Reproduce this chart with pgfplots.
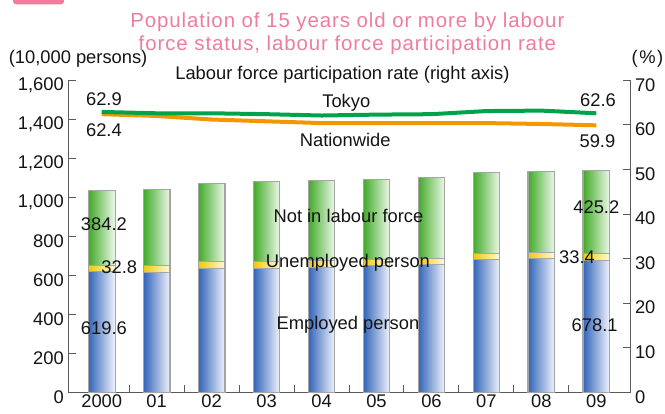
\documentclass[border=0pt]{standalone}
\usepackage{pgfplots}
\usepackage{pgfplotstable}
\pgfplotsset{compat=1.18}
\usepackage{fontspec}
\setmainfont{Liberation Sans}
\newfontfamily\titlefont{Liberation Sans}[LetterSpace=4.5]
\definecolor{axgray}{RGB}{90,90,90}
\definecolor{bargray}{RGB}{165,165,165}
\definecolor{tpink}{RGB}{238,125,155}
\definecolor{empblue}{RGB}{50,100,185}
\definecolor{empwhite}{RGB}{240,243,252}
\definecolor{unyel}{RGB}{240,200,10}
\definecolor{unwhite}{RGB}{255,251,220}
\definecolor{nlgreen}{RGB}{65,170,40}
\definecolor{nlwhite}{RGB}{238,248,234}
\definecolor{tokgreen}{RGB}{0,163,75}
\definecolor{natorange}{RGB}{243,150,0}
\definecolor{txt}{RGB}{20,20,20}

\pgfplotstableread{
x emp unemp notlf tokyo nation
0 619.6 32.8 384.2 62.9 62.4
1 616 35 390 62.6 62.0
2 633 38 399 62.6 61.2
3 637 36 407 62.4 60.8
4 641 33 413 62.1 60.4
5 648 33 411 62.3 60.4
6 656 31 416 62.4 60.4
7 682 30 414 63.1 60.4
8 687 31 413 63.2 60.2
9 678.1 33.4 425.2 62.6 59.9
}\datatable

\pgfplotsset{
  barstyle/.style={ybar, bar width=26.7bp, bar shift=0pt, draw=bargray, line width=1.1pt, forget plot,
    x filter/.expression={abs(x-#1)<0.1 ? x : nan}},
}

\begin{document}
\begin{tikzpicture}[font=\fontsize{18.4}{22}\selectfont, text=txt]
\useasboundingbox (-68.3bp,-21.7bp) rectangle (596.7bp,392.3bp);
\begin{axis}[
  width=562.2bp, height=312bp, scale only axis,
  xmin=-0.608, xmax=9.622, ymin=0, ymax=1600,
  axis x line*=bottom, axis y line*=left,
  axis line style={axgray, line width=1pt},
  tick align=inside,
  ytick={0,200,...,1600},
  major tick length=8bp,
  tick style={axgray, line width=1pt},
  xtick={0,...,9},
  xticklabels={2000,01,02,03,04,05,06,07,08,09},
  every major x tick/.style={draw=none},
  minor xtick={0.5,1.5,...,8.5},
  every minor x tick/.style={axgray, line width=1pt},
  minor tick length=7bp,
  /pgf/number format/.cd, 1000 sep={,}, assume math mode=true,
  /pgfplots/.cd,
  yticklabel style={font=\fontsize{18.4}{22}\selectfont, yshift=-4.5bp, xshift=-1bp},
  xticklabel style={font=\fontsize{18.4}{22}\selectfont, yshift=1bp},
  clip=false,
]
\pgfplotsinvokeforeach{0,...,9}{
\addplot[barstyle=#1, left color=nlgreen, right color=nlwhite] table[x=x, y expr=\thisrow{emp}+\thisrow{unemp}+\thisrow{notlf}] {\datatable};
\addplot[barstyle=#1, left color=unyel, right color=unwhite] table[x=x, y expr=\thisrow{emp}+\thisrow{unemp}] {\datatable};
\addplot[barstyle=#1, left color=empblue, right color=empwhite] table[x=x, y=emp] {\datatable};
}

\node at (axis cs:4.49,906) {Not in labour force};
\node at (axis cs:4.48,663) {Unemployed person};
\node at (axis cs:4.48,344) {Employed person};
\node at (axis cs:0.04,862) {384.2};
\node at (axis cs:0.32,644) {32.8};
\node at (axis cs:0.04,328) {619.6};
\node at (axis cs:9.0,949) {425.2};
\node at (axis cs:8.65,692) {33.4};
\node at (axis cs:8.97,344) {678.1};
\node at (axis cs:4.38,1627) {Labour force participation rate (right axis)};
\node at (axis cs:0.04,1503) {62.9};
\node at (axis cs:0.04,1342) {62.4};
\node at (axis cs:9.03,1499) {62.6};
\node at (axis cs:9.02,1290) {59.9};
\node at (axis cs:4.45,1487) {Tokyo};
\node at (axis cs:4.43,1294) {Nationwide};
\node at (axis cs:-0.43,1708) {(10,000 persons)};
\node at (axis cs:9.93,1713) {(\hspace{1.5bp}\%\hspace{1.5bp})};
\node[text=tpink, font=\titlefont\fontsize{20.5}{23.3}\selectfont, align=center] at (axis cs:4.47,1839) {Population of 15 years old or more by labour\\force status, labour force participation rate};
\end{axis}
\begin{axis}[
  width=562.2bp, height=312bp, scale only axis,
  xmin=-0.608, xmax=9.622, ymin=0, ymax=70,
  axis x line=none, axis y line*=right,
  axis line style={axgray, line width=1pt},
  tick align=inside,
  major tick length=8bp,
  tick style={axgray, line width=1pt},
  ytick={0,10,...,70},
  /pgf/number format/assume math mode=true,
  yticklabel style={font=\fontsize{18.4}{22}\selectfont, yshift=-4.5bp, xshift=1bp},
]
\addplot[natorange, line width=4bp, line join=round] table[x=x, y=nation] {\datatable};
\addplot[tokgreen, line width=4bp, line join=round] table[x=x, y=tokyo] {\datatable};
\end{axis}
\fill[tpink] (-55.3bp,392.3bp) -- (-4.3bp,392.3bp) -- (-4.3bp,391bp) arc (0:-90:3bp) -- (-52.3bp,388bp) arc (270:180:3bp) -- cycle;
\end{tikzpicture}
\end{document}
